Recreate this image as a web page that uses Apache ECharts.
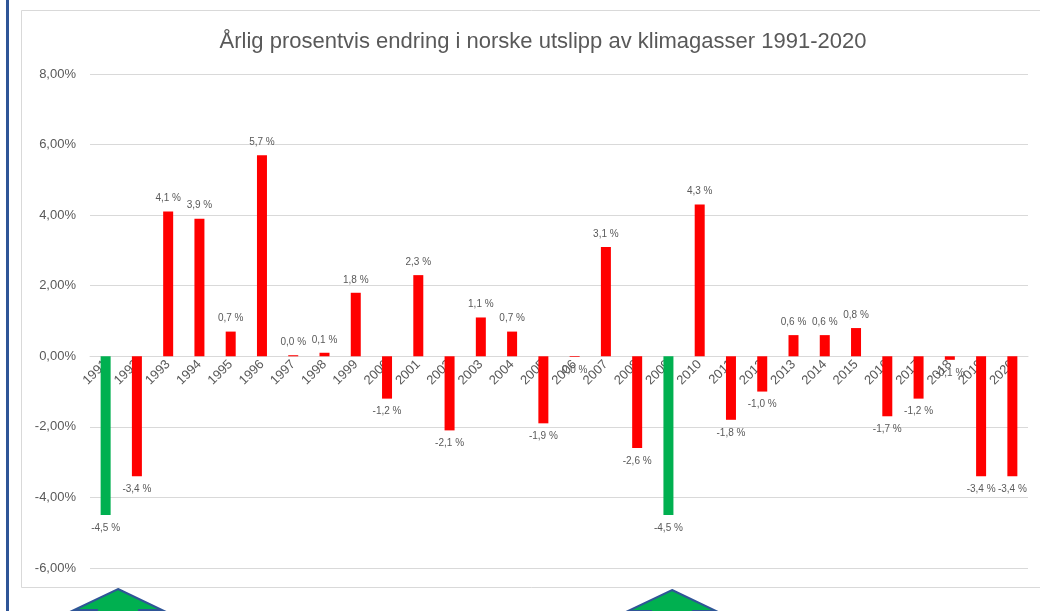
<!DOCTYPE html>
<html>
<head>
<meta charset="utf-8">
<script src="https://cdn.jsdelivr.net/npm/echarts@6/dist/echarts.min.js"></script>
<style>
  html, body { margin: 0; padding: 0; background: #fff; }
  #chart { width: 1040px; height: 611px; }
</style>
</head>
<body>
<div id="chart"></div>
<script>
// årstall og prosentvis endring
const years = ['1991', '1992', '1993', '1994', '1995', '1996', '1997', '1998', '1999', '2000',
  '2001', '2002', '2003', '2004', '2005', '2006', '2007', '2008', '2009', '2010',
  '2011', '2012', '2013', '2014', '2015', '2016', '2017', '2018', '2019', '2020']
const changes = [-4.5, -3.4, 4.1, 3.9, 0.7, 5.7, 0.03, 0.1, 1.8, -1.2,
  2.3, -2.1, 1.1, 0.7, -1.9, -0.02, 3.1, -2.6, -4.5, 4.3,
  -1.8, -1.0, 0.6, 0.6, 0.8, -1.7, -1.2, -0.1, -3.4, -3.4]
// år som er markert grønt
const highlighted = ['1991', '2009']
const yTicks = [-6, -4, -2, 0, 2, 4, 6, 8]

const GREEN = '#00b050'
const RED = '#ff0000'
const TEXT = '#595959'
const FONT = 'Liberation Sans, Arial, sans-serif'

const fmtLabel = v => {
  let s = v.toFixed(1)
  if (s === '-0.0') s = '0.0'
  return s.replace('.', ',') + ' %'
}

const barData = changes.map((v, i) => ({
  value: v,
  itemStyle: { color: highlighted.includes(years[i]) ? GREEN : RED },
  label: { position: v < 0 ? 'bottom' : 'top' }
}))

// pil-figurer under diagrammet
const arrow = (cx, tipY) => ({
  type: 'polygon',
  shape: {
    points: [
      [cx, tipY], [cx + 44, tipY + 21], [cx + 21, tipY + 21], [cx + 21, 640],
      [cx - 21, 640], [cx - 21, tipY + 21], [cx - 44, tipY + 21]
    ]
  },
  style: { fill: GREEN, stroke: '#2f5597', lineWidth: 2 }
})

const gridTop = 74
const gridBottom = 43
const plotH = 611 - gridTop - gridBottom
// flytt x-aksen opp til nullinjen
const zeroOffset = -plotH * (0 - yTicks[0]) / (yTicks[yTicks.length - 1] - yTicks[0])

const chart = echarts.init(document.getElementById('chart'))

chart.setOption({
  backgroundColor: '#fff',
  animation: false,
  title: {
    text: 'Årlig prosentvis endring i norske utslipp av klimagasser 1991-2020',
    left: 538,
    top: 26,
    textAlign: 'center',
    textStyle: {
      fontFamily: FONT,
      fontSize: 22,
      fontWeight: 'normal',
      color: TEXT
    }
  },
  grid: {
    left: 90,
    right: 12,
    top: gridTop,
    bottom: gridBottom
  },
  xAxis: {
    type: 'category',
    data: years,
    offset: zeroOffset,
    axisLine: { show: true, onZero: false, lineStyle: { color: '#d9d9d9' } },
    axisTick: { show: false },
    axisLabel: {
      rotate: 45,
      interval: 0,
      margin: 6,
      fontSize: 13,
      fontFamily: FONT,
      color: TEXT
    }
  },
  yAxis: {
    type: 'value',
    min: yTicks[0],
    max: yTicks[yTicks.length - 1],
    interval: 2,
    axisLine: { show: false },
    axisTick: { show: false },
    splitLine: { lineStyle: { color: '#d9d9d9' } },
    axisLabel: {
      margin: 14,
      fontSize: 13,
      fontFamily: FONT,
      color: TEXT,
      formatter: v => v.toFixed(2).replace('.', ',') + '%'
    }
  },
  series: [{
    type: 'bar',
    data: barData,
    barWidth: 10,
    label: {
      show: true,
      distance: 8,
      fontSize: 10,
      fontFamily: FONT,
      color: TEXT,
      formatter: p => fmtLabel(p.value)
    }
  }],
  graphic: [
    {
      type: 'rect',
      shape: { x: 21.5, y: 10.5, width: 1040, height: 577 },
      style: { fill: null, stroke: '#d9d9d9', lineWidth: 1 },
      silent: true,
      z: -1
    },
    {
      type: 'rect',
      shape: { x: 6, y: 0, width: 3, height: 611 },
      style: { fill: '#2f5597' },
      silent: true
    },
    arrow(118, 589),
    arrow(672, 590)
  ]
})

window.addEventListener('resize', () => chart.resize())
</script>
</body>
</html>
